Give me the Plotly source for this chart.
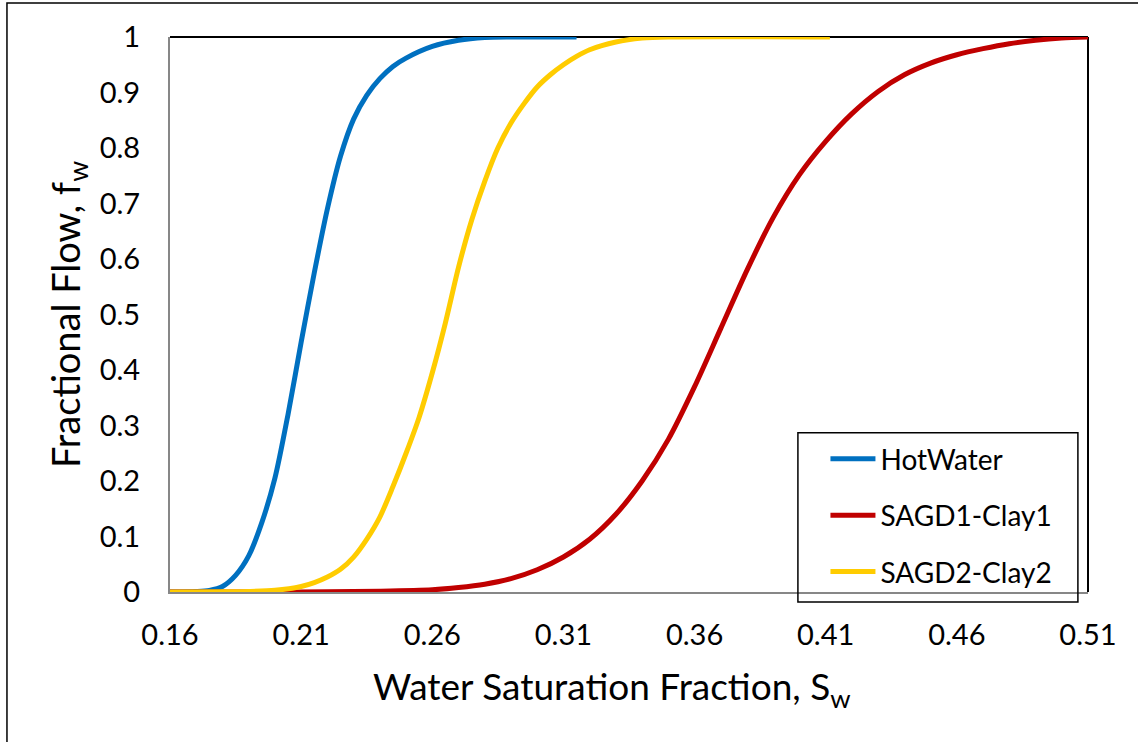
import plotly.graph_objects as go

# water saturation / fractional flow
sw_hot = [0.16, 0.17, 0.175, 0.18, 0.185, 0.19, 0.195, 0.20, 0.205, 0.21, 0.215,
          0.22, 0.225, 0.23, 0.235, 0.24, 0.245, 0.25, 0.26, 0.27, 0.28, 0.29, 0.315]
fw_hot = [0.0, 0.001, 0.003, 0.010, 0.030, 0.065, 0.125, 0.205, 0.32, 0.45, 0.575,
          0.69, 0.785, 0.852, 0.895, 0.925, 0.947, 0.962, 0.983, 0.994, 0.999, 1.0, 1.0]

sw_clay1 = [0.16, 0.20, 0.22, 0.24, 0.26, 0.27, 0.28, 0.29, 0.30, 0.31, 0.32,
            0.33, 0.34, 0.35, 0.36, 0.37, 0.38, 0.39, 0.40, 0.41, 0.42, 0.43,
            0.44, 0.45, 0.46, 0.47, 0.48, 0.49, 0.50, 0.51]
fw_clay1 = [0.0, 0.0, 0.0005, 0.0015, 0.004, 0.008, 0.014, 0.024, 0.040, 0.063, 0.095,
            0.14, 0.20, 0.275, 0.37, 0.475, 0.58, 0.675, 0.752, 0.812, 0.862, 0.902,
            0.932, 0.953, 0.968, 0.979, 0.988, 0.994, 0.998, 1.0]

sw_clay2 = [0.16, 0.18, 0.19, 0.20, 0.21, 0.215, 0.22, 0.225, 0.23, 0.235, 0.24,
            0.245, 0.25, 0.255, 0.26, 0.265, 0.27, 0.275, 0.28, 0.285, 0.29, 0.295,
            0.30, 0.305, 0.31, 0.315, 0.32, 0.33, 0.34, 0.35, 0.4116]
fw_clay2 = [0.0, 0.0005, 0.001, 0.003, 0.010, 0.017, 0.027, 0.041, 0.063, 0.095, 0.135,
            0.19, 0.25, 0.315, 0.395, 0.485, 0.585, 0.67, 0.74, 0.80, 0.845, 0.88,
            0.91, 0.932, 0.95, 0.965, 0.977, 0.991, 0.998, 1.0, 1.0]

series = [
    ("HotWater", sw_hot, fw_hot, "#0070C0"),
    ("SAGD1-Clay1", sw_clay1, fw_clay1, "#C00000"),
    ("SAGD2-Clay2", sw_clay2, fw_clay2, "#FFCC00"),
]

FONT = "Lato"

fig = go.Figure()
for i, (name, x, y, color) in enumerate(series):
    fig.add_trace(go.Scatter(
        x=x, y=y, mode="lines", name=name,
        line=dict(color=color, width=5, shape="spline", smoothing=0.8),
        legendgroup=f"g{i}",
    ))

fig.update_layout(
    width=1138, height=742,
    margin=dict(l=170, r=50, t=37, b=150),
    paper_bgcolor="white", plot_bgcolor="white",
    font=dict(family=FONT, color="black"),
    showlegend=True,
    legend=dict(
        x=0.714, y=0.2845, xanchor="left", yanchor="top",
        bgcolor="rgba(0,0,0,0)", borderwidth=0,
        font=dict(family=FONT, size=28, color="black"),
        traceorder="grouped", tracegroupgap=17,
        itemwidth=45,
    ),
    xaxis=dict(
        range=[0.16, 0.51], tick0=0.16, dtick=0.05, tickformat=".2f",
        showgrid=False, zeroline=False, ticks="",
        showline=True, linecolor="#878787", linewidth=2, layer="below traces",
        tickfont=dict(size=29), ticklabelstandoff=16,
    ),
    yaxis=dict(
        range=[0, 1], dtick=0.1,
        showgrid=False, zeroline=False, ticks="",
        showline=True, linecolor="#878787", linewidth=2, layer="below traces",
        tickfont=dict(size=29), ticklabelstandoff=22,
        title=dict(text="Fractional Flow, f<sub>w</sub>",
                   font=dict(size=38), standoff=7),
    ),
    annotations=[
        dict(text="Water Saturation Fraction, S<sub>w</sub>",
             xref="paper", yref="paper", x=0.4815, y=-0.125,
             xanchor="center", yanchor="top", showarrow=False,
             font=dict(size=37)),
    ],
    shapes=[
        # top and right plot-area borders
        dict(type="line", xref="paper", yref="paper", x0=0, x1=1, y0=1, y1=1,
             line=dict(color="black", width=2), layer="below"),
        dict(type="line", xref="paper", yref="paper", x0=1, x1=1, y0=0, y1=1,
             line=dict(color="black", width=2), layer="below"),
        # legend frame
        dict(type="rect", xref="paper", yref="paper",
             x0=0.684, x1=0.989, y0=-0.018, y1=0.287,
             line=dict(color="black", width=1.5)),
        # outer chart border
        dict(type="rect", xref="paper", yref="paper",
             x0=-0.1776, x1=1.2, y0=-0.4, y1=1.0614,
             line=dict(color="black", width=1.5), layer="below"),
    ],
)

# drop the default 8px page margin so the figure sits at the window origin
fig.write_html("out.html", config={"displayModeBar": False},
               post_script="document.body.style.margin='0px';")
